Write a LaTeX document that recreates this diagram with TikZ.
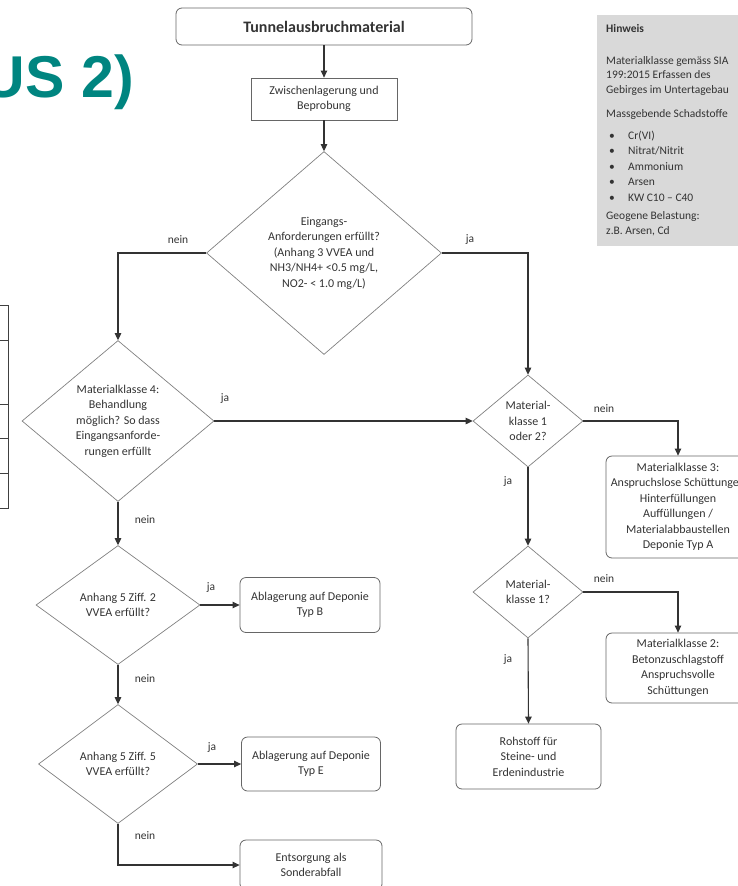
\documentclass[tikz,border=0pt]{standalone}
\usepackage{fontspec}
\setmainfont{Carlito}
\newfontfamily\titelfont{Liberation Sans}
\usetikzlibrary{shapes.geometric,arrows.meta}

\definecolor{titelgruen}{RGB}{0,133,128}
\definecolor{hinweisgrau}{RGB}{217,217,217}
\definecolor{textgrau}{RGB}{51,51,51}

\newcommand\punkt{\makebox[22pt][l]{\hspace{3pt}\textbullet}}

\tikzset{
  txt/.style={font=\fontsize{12}{15.5}\selectfont, text=textgrau, align=center, inner sep=0pt},
  lbl/.style={font=\fontsize{11.5}{13}\selectfont, text=textgrau, inner sep=0pt},
  frage/.style 2 args={txt, diamond, aspect=1.2, draw=black!50, line width=0.7pt,
    minimum width=#1pt, minimum height=#2pt},
  kasten/.style 2 args={txt, rectangle, draw=black!60, line width=0.8pt,
    minimum width=#1pt, minimum height=#2pt},
  ziel/.style 2 args={kasten={#1}{#2}, rounded corners=6pt},
  pfeil/.style={draw=black!80, line width=1.1pt, -{Triangle[length=7pt,width=6.5pt]}}
}

\begin{document}
\begin{tikzpicture}[x=1pt, y=-1pt]
\useasboundingbox (0,0) rectangle (738,886);
\clip (0,0) rectangle (738,886);

%% title, cut off at the left edge
\node[anchor=base east, font=\titelfont\fontsize{59}{59}\selectfont\bfseries, text=titelgruen, inner sep=0pt]
  (titel) at (134,97) {US 2)};

%% table stub on the left
\draw[black!75, line width=1pt] (0,305) -- (8,305) -- (8,508) -- (0,508);
\foreach \y in {340,404,438,473}
  \draw[black!75, line width=1pt] (0,\y) -- (8,\y);

%% Hinweis
\fill[hinweisgrau] (597,15) rectangle (740,246);
\node[anchor=north west, align=left, inner sep=0pt, text=textgrau,
  font=\fontsize{11.5}{15.5}\selectfont] (hinweis) at (606,24) {%
  \textbf{Hinweis}\\[16.5pt]
  Materialklasse gemäss SIA\\[-1pt]
  199:2015 Erfassen des\\[-1pt]
  Gebirges im Untertagebau\\[8.5pt]
  Massgebende Schadstoffe\\[6.5pt]
  \punkt Cr(VI)\\
  \punkt Nitrat/Nitrit\\
  \punkt Ammonium\\
  \punkt Arsen\\
  \punkt KW C10 – C40\\[2.5pt]
  Geogene Belastung:\\
  z.B. Arsen, Cd};

%% main column
\node[ziel={296}{37}, font=\fontsize{16}{18}\selectfont\bfseries] (tunnel) at (324,26.5) {Tunnelausbruchmaterial};
\node[kasten={146}{42}] (zwischen) at (324,99) {Zwischenlagerung und\\Beprobung};
\node[frage={235}{203}] (eingang) at (324,253) {Eingangs-\\Anforderungen erfüllt?\\(Anhang 3 VVEA und\\NH3/NH4+ <0.5 mg/L,\\NO2- < 1.0 mg/L)};

%% left column
\node[frage={192}{161}] (mk4) at (118,421) {Materialklasse 4:\\Behandlung\\möglich? So dass\\Eingangsanforde-\\rungen erfüllt};
\node[frage={164}{119}] (anh2) at (118,605) {Anhang 5 Ziff. 2\\VVEA erfüllt?};
\node[frage={159}{119}] (anh5) at (118,764) {Anhang 5 Ziff. 5\\VVEA erfüllt?};
\node[ziel={140}{55}] (depB) at (310,605) {Ablagerung auf Deponie\\Typ B};
\node[ziel={139}{54}] (depE) at (311,764) {Ablagerung auf Deponie\\Typ E};
\node[ziel={142}{50}] (sonder) at (311,865) {Entsorgung als\\Sonderabfall};

%% right column
\node[frage={110}{92}] (mk12) at (528,421) {Material-\\klasse 1\\oder 2?};
\node[frage={110}{92}] (mk1) at (528,592) {Material-\\klasse 1?};
\node[ziel={144}{102}] (mk3) at (678,507) {Materialklasse 3:\\Anspruchslose Schüttungen\\Hinterfüllungen\\Auffüllungen /\\Materialabbaustellen\\Deponie Typ A};
\node[ziel={144}{70}] (mk2) at (678,668) {Materialklasse 2:\\Betonzuschlagstoff\\Anspruchsvolle\\Schüttungen};
\node[ziel={145}{65}] (rohstoff) at (528.5,756.5) {Rohstoff für\\Steine- und\\Erdenindustrie};

%% connectors
\draw[pfeil] (tunnel) -- (zwischen);
\draw[pfeil] (zwischen) -- (eingang);
\draw[pfeil] (eingang.west) -| (mk4.north);
\draw[pfeil] (eingang.east) -| (mk12.north);
\draw[pfeil] (mk4.east) -- (mk12.west);
\draw[pfeil] (mk12.east) -| (mk3.north);
\draw[pfeil] (mk12.south) -- (mk1.north);
\draw[pfeil] (mk1.east) -| (mk2.north);
\draw[pfeil] (mk1.south) -- (rohstoff.north);
\draw[pfeil] (mk4.south) -- (anh2.north);
\draw[pfeil] (anh2.east) -- (depB.west);
\draw[pfeil] (anh2.south) -- (anh5.north);
\draw[pfeil] (anh5.east) -- (depE.west);
\draw[pfeil] (anh5.south) |- (sonder.west);

%% ja / nein
\node[lbl] (l1) at (178,240) {nein};
\node[lbl] (l2) at (470,240) {ja};
\node[lbl] (l3) at (225,399) {ja};
\node[lbl] (l4) at (604,409) {nein};
\node[lbl] (l5) at (508,482) {ja};
\node[lbl] (l6) at (604,579) {nein};
\node[lbl] (l7) at (508,660) {ja};
\node[lbl] (l8) at (145,520) {nein};
\node[lbl] (l9) at (211,588) {ja};
\node[lbl] (l10) at (145,679) {nein};
\node[lbl] (l11) at (212,748) {ja};
\node[lbl] (l12) at (145,836) {nein};
\end{tikzpicture}
\end{document}
